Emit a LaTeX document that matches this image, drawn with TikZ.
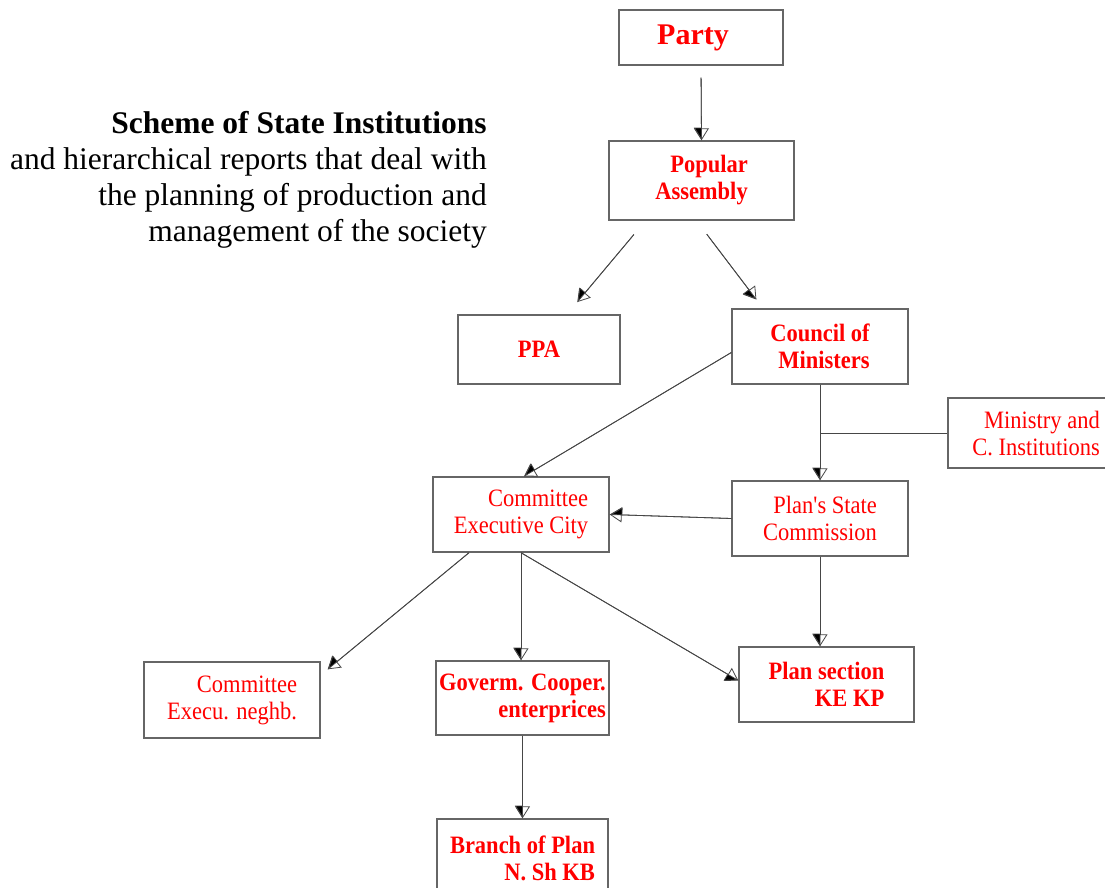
\documentclass[tikz,border=0pt]{standalone}
\usepackage{fontspec}
\setmainfont{Liberation Serif}
\newfontfamily\boxfont[FakeStretch=0.9]{Liberation Serif}
\usetikzlibrary{arrows.meta}

\tikzset{
  box/.style={draw=gray!80!black, line width=1.4pt, minimum width=176pt, minimum height=75pt,
    align=right, text=red, font=\boxfont\fontsize{25}{27}\selectfont},
  boldbox/.style={box, font=\boxfont\bfseries\fontsize{25}{27}\selectfont},
  link/.style={draw=gray!55!black, line width=0.8pt},
  halfarrow/.style={link, -{Triangle[open, length=12pt, width=15pt]},
    postaction={draw=gray!55!black, line width=0.8pt, -{Triangle[right, length=12pt, width=15pt, fill=black]}}}
}

\begin{document}
\begin{tikzpicture}[x=1pt, y=-1pt]
\useasboundingbox (0,0) rectangle (1105,888);

\node [align=right, anchor=north east, inner sep=0pt, font=\fontsize{31.5}{36}\selectfont] (title) at (487,111)
  {\textbf{Scheme of State Institutions}\\and hierarchical reports that deal with\\the planning of production and\\management of the society};

% top of the hierarchy
\node [boldbox, minimum width=164pt, minimum height=55pt, font=\bfseries\fontsize{30}{36}\selectfont] (party) at (701,37.5) {Party\hspace*{16pt}};
\node [boldbox, minimum width=185pt, minimum height=79pt] (popular) at (701.5,180.5) {Popular\\Assembly};
\node [boldbox, minimum width=162pt, minimum height=69pt] (ppa) at (539,349.5) {PPA};
\node [boldbox] (council) at (820,346.5) {Council of\\Ministers};
\node [box, minimum height=70pt] (ministry) at (1036,433) {Ministry and\\C. Institutions};

% planning level
\node [box] (plan) at (820,518.5) {Plan's State\\Commission};
\node [box] (cec) at (521,514.5) {Committee\\Executive City};

% lower level
\node [box, minimum height=76pt] (neighb) at (232,700) {Committee\\Execu. neghb.};
\node [boldbox, minimum width=171pt, minimum height=74pt] (cooper) at (522.5,698) {Goverm. Cooper.\\enterprices};
\node [boldbox, minimum width=175pt] (section) at (826.5,684.5) {Plan section\\KE KP};
\node [boldbox, minimum width=171pt, minimum height=78pt] (branch) at (522.5,858) {Branch of Plan\\N. Sh KB};

\draw [halfarrow, shorten <=12pt] (party.south) -- (popular.north);
\draw [halfarrow, shorten <=18pt, shorten >=16pt] ([xshift=-56pt]popular.south) -- ([xshift=28pt]ppa.north);
\draw [halfarrow, shorten <=17pt, shorten >=11pt] ([xshift=-5pt]popular.south) -- ([xshift=-57pt]council.north);
\draw [halfarrow] ([yshift=-6pt]council.west) -- ([xshift=3pt]cec.north);
\draw [halfarrow] (council.south) -- (plan.north);
\draw [link] (ministry.west) -- (ministry.west -| council.south);
\draw [halfarrow] (plan.west) -- (cec.east);
\draw [halfarrow] ([xshift=-52pt]cec.south) -- ([xshift=7pt,yshift=-8pt]neighb.north east);
\draw [halfarrow] (cec.south) -- (cec.south |- cooper.north);
\draw [halfarrow] (cec.south) -- ([yshift=4pt]section.west);
\draw [halfarrow] (plan.south) -- (plan.south |- section.north);
\draw [halfarrow] (cooper.south) -- (branch.north);
\end{tikzpicture}
\end{document}
